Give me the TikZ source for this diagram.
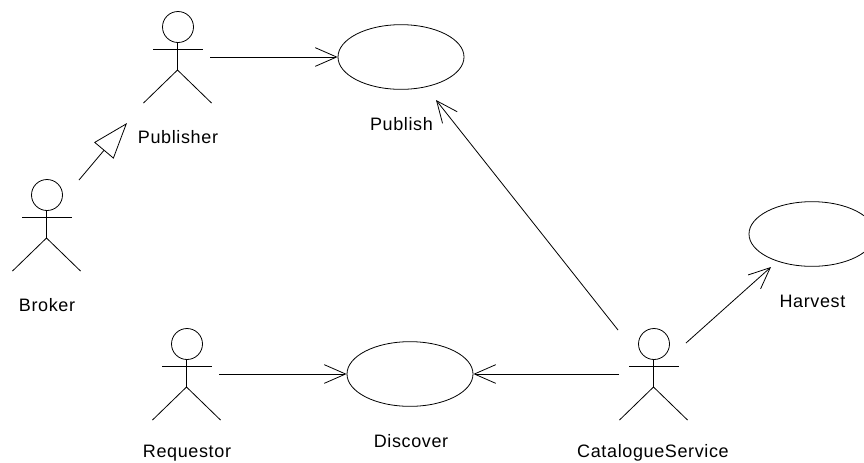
\documentclass[tikz,border=0pt]{standalone}
\usepackage{fontspec}
\setmainfont[LetterSpace=3.5]{Liberation Sans}
\usetikzlibrary{arrows.meta,shapes.geometric}
\tikzset{
  usecase/.style={draw,ellipse,minimum width=94.5pt,minimum height=48.5pt,inner sep=0pt},
  actorname/.style={inner sep=0pt,font=\fontsize{13.5pt}{15pt}\selectfont},
  assoc/.style={-{Straight Barb[length=16pt,width=14pt]}},
  generalize/.style={-{Triangle[open,length=27pt,width=19pt]}},
  actor/.pic={
    \draw (0,0) circle (15.5);
    \draw (-25,22) -- (24.5,22);
    \draw (-0.5,15.5) -- (-0.5,43) (-34.5,76) -- (-0.5,43) -- (33.5,76);
  }
}
\begin{document}
\begin{tikzpicture}[x=0.75pt,y=-0.75pt,line width=0.6pt]
  \useasboundingbox (0,0) rectangle (864,462);

  % actors
  \pic at (178,27) {actor};
  \pic at (47,195) {actor};
  \pic at (187,344) {actor};
  \pic at (654,344) {actor};

  % actor names
  \node[actorname] (publisher) at (178,137) {Publisher};
  \node[actorname] (broker) at (47,305) {Broker};
  \node[actorname] (requestor) at (187,453) {Requestor};
  \node[actorname] (catalogue) at (653,453) {CatalogueService};

  % use cases
  \node[usecase] (publish) at (401,57) {};
  \node[usecase] (discover) at (410,374) {};
  \node[usecase] (harvest) at (812,234) {};
  \node[actorname] (publishname) at (401.5,124) {Publish};
  \node[actorname] (discovername) at (411,441) {Discover};
  \node[actorname] (harvestname) at (812.5,301) {Harvest};

  % free ends
  \coordinate (publisherOut) at (210,57);
  \coordinate (requestorOut) at (219,374);
  \coordinate (catalogueLeft) at (619,374);
  \coordinate (catalogueUp) at (618,330);
  \coordinate (catalogueRight) at (686,343);
  \coordinate (publishIn) at (436,100);
  \coordinate (harvestIn) at (771,267);
  \coordinate (brokerOut) at (79,180);
  \coordinate (publisherIn) at (127,123);

  % connectors
  \draw[assoc] (publisherOut) -- (publish.west);
  \draw[assoc] (requestorOut) -- (discover.west);
  \draw[assoc] (catalogueLeft) -- (discover.east);
  \draw[assoc] (catalogueUp) -- (publishIn);
  \draw[assoc] (catalogueRight) -- (harvestIn);
  \draw[generalize] (brokerOut) -- (publisherIn);
\end{tikzpicture}
\end{document}
